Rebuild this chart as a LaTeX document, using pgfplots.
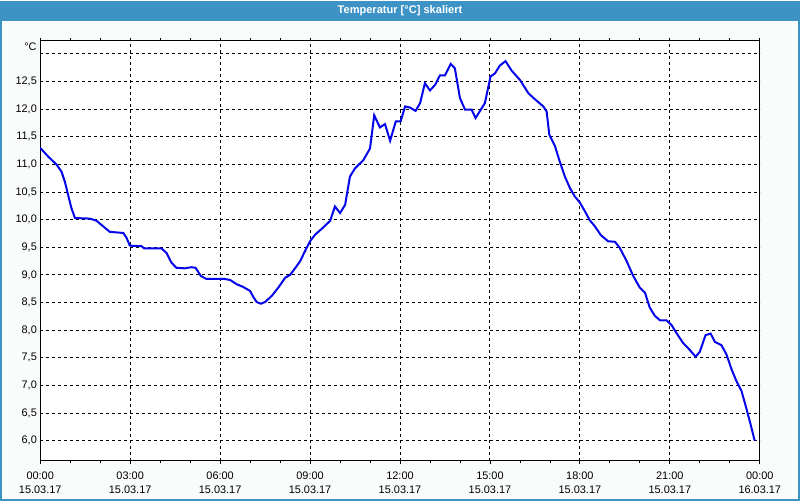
\documentclass[border=0pt]{standalone}
\usepackage{pgfplots}
\pgfplotsset{compat=1.18}
\usepackage{fontspec}
\setmainfont{Liberation Sans}
\definecolor{titlebar}{RGB}{61,147,198}
\definecolor{bgc}{RGB}{250,252,252}
\definecolor{curve}{RGB}{5,5,235}
\begin{document}
\begin{tikzpicture}[x=0.75pt,y=0.75pt]
\fill[bgc] (0,0) rectangle (800,500);
\fill[titlebar] (0,480) rectangle (800,500);
\draw[titlebar,line width=1.5pt] (0.75,500) -- (0.75,0.75) -- (799.25,0.75) -- (799.25,500);
\node[text=white,font=\bfseries\fontsize{8.3}{10}\selectfont] at (400,490) {Temperatur [°C] skaliert};
\begin{axis}[
  name=main,
  at={(30pt,30pt)}, anchor=south west,
  scale only axis, width=540pt, height=315pt,
  xmin=0, xmax=24, ymin=5.638, ymax=13.235,
  axis background/.style={fill=white},
  axis line style={black, line width=0.75pt},
  xtick={0,3,...,24},
  minor xtick={1,2,4,5,7,8,10,11,13,14,16,17,19,20,22,23},
  xticklabels={{00:00\\15.03.17},{03:00\\15.03.17},{06:00\\15.03.17},{09:00\\15.03.17},{12:00\\15.03.17},{15:00\\15.03.17},{18:00\\15.03.17},{21:00\\15.03.17},{00:00\\16.03.17}},
  xticklabel style={align=center, font=\fontsize{8.2}{10.5}\selectfont, yshift=-2pt},
  ytick={6,6.5,...,13},
  yticklabels={{6,0},{6,5},{7,0},{7,5},{8,0},{8,5},{9,0},{9,5},{10,0},{10,5},{11,0},{11,5},{12,0},{12,5},{}},
  yticklabel style={font=\fontsize{8.2}{10}\selectfont, xshift=1pt},
  ytick style={draw=none},
  xtick align=outside, major tick length=2.5pt, minor tick length=2pt,
  tick style={black, line width=0.6pt},
  grid=major,
  major grid style={black, line width=0.75pt, dash pattern=on 2.25pt off 2.25pt},
  clip=true,
]
\addplot[curve, line width=1.5pt] coordinates {
(0,11.30) (0.27,11.14) (0.54,11.00) (0.71,10.87) (0.82,10.69) (0.93,10.45) (1.04,10.21) (1.16,10.03)
(1.66,10.02) (1.88,9.98) (2.10,9.88) (2.32,9.78) (2.77,9.76) (2.88,9.67) (2.99,9.53) (3.38,9.52)
(3.47,9.48) (4.04,9.48) (4.21,9.40) (4.38,9.22) (4.54,9.13) (4.82,9.12) (5.04,9.14) (5.18,9.13)
(5.36,8.98) (5.54,8.93) (6.11,8.93) (6.33,8.91) (6.56,8.83) (6.78,8.78) (7.00,8.71) (7.11,8.60)
(7.22,8.51) (7.36,8.48) (7.50,8.51) (7.72,8.62) (7.94,8.77) (8.17,8.95) (8.33,9.00) (8.50,9.12)
(8.67,9.25) (8.83,9.43) (9.00,9.61) (9.17,9.73) (9.44,9.86) (9.67,9.98) (9.83,10.24) (10.00,10.12)
(10.17,10.27) (10.33,10.78) (10.50,10.93) (10.78,11.08) (11.00,11.29) (11.14,11.89) (11.33,11.67) (11.50,11.73)
(11.67,11.43) (11.86,11.78) (12.02,11.78) (12.17,12.05) (12.33,12.03) (12.52,11.97) (12.67,12.11) (12.83,12.47)
(13.00,12.34) (13.17,12.44) (13.33,12.61) (13.50,12.61) (13.69,12.82) (13.83,12.74) (14.00,12.20) (14.17,11.99)
(14.39,11.99) (14.52,11.84) (14.67,11.97) (14.83,12.11) (15.02,12.59) (15.17,12.65) (15.33,12.79) (15.52,12.87)
(15.72,12.70) (16.00,12.53) (16.28,12.29) (16.50,12.18) (16.78,12.05) (16.89,11.96) (16.98,11.54) (17.17,11.33)
(17.33,11.05) (17.50,10.78) (17.67,10.57) (17.83,10.42) (18.00,10.31) (18.17,10.15) (18.33,9.99) (18.50,9.88)
(18.70,9.72) (18.94,9.61) (19.17,9.60) (19.33,9.49) (19.56,9.25) (19.78,8.98) (20.00,8.77) (20.17,8.68)
(20.33,8.41) (20.50,8.26) (20.67,8.18) (20.89,8.18) (21.06,8.09) (21.22,7.95) (21.44,7.77) (21.67,7.64)
(21.86,7.52) (22.00,7.61) (22.19,7.91) (22.36,7.94) (22.50,7.79) (22.72,7.73) (22.89,7.56) (23.06,7.29)
(23.22,7.08) (23.39,6.90) (23.56,6.57) (23.72,6.24) (23.83,6.00)
};
\end{axis}
\node[anchor=east, font=\fontsize{8.2}{10}\selectfont, inner sep=0pt] at ([xshift=-2.5pt, yshift=-4.3pt]main.north west) {°C};
\end{tikzpicture}
\end{document}
